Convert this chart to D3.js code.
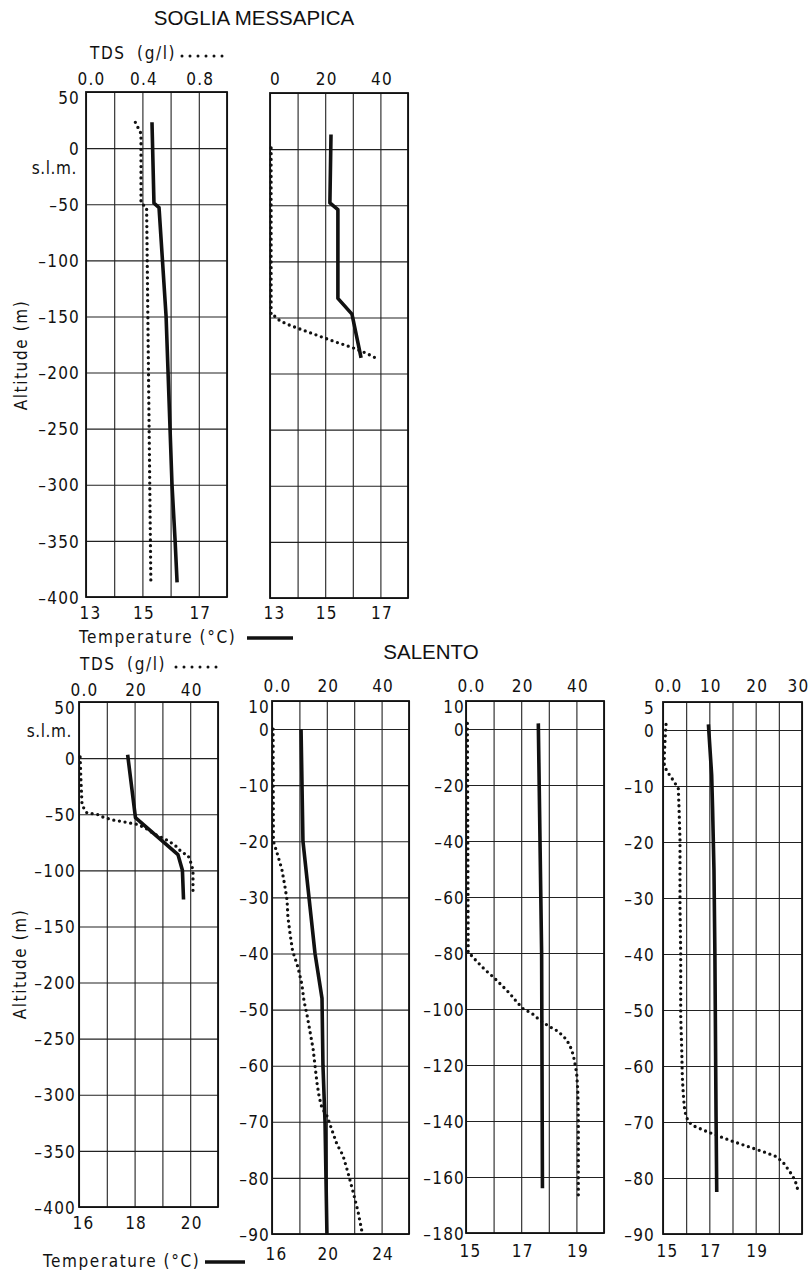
<!DOCTYPE html>
<html><head><meta charset="utf-8">
<script src="https://cdn.jsdelivr.net/npm/d3@7"></script>
<style>
body{margin:0;background:#fff;}
svg text{font-family:'DejaVu Sans Condensed','DejaVu Sans',sans-serif;font-stretch:condensed;fill:#111;font-size:17px;letter-spacing:1.2px;}
svg text.title{font-family:'Liberation Sans',Arial,sans-serif;font-stretch:normal;font-size:20.5px;letter-spacing:0;}
svg text.leg{letter-spacing:1.6px;}
</style></head><body><svg id="c" width="809" height="1270"></svg>
<script>
// ---------- DATA ----------
// Soglia Messapica, well A
const smA_tempAlt = [23, -49, -53, -150, -200, -300, -350, -387];
const smA_temp    = [15.34, 15.41, 15.59, 15.84, 15.91, 16.05, 16.16, 16.23];
const smA_tdsAlt  = [23, 13, -49, -53, -387];
const smA_tds     = [0.35, 0.39, 0.39, 0.43, 0.46];
// Soglia Messapica, well B
const smB_tempAlt = [13, -48, -54, -133, -147, -186];
const smB_temp    = [15.21, 15.17, 15.46, 15.46, 15.97, 16.30];
const smB_tdsAlt  = [1, -148, -149, -153, -156, -158, -161, -171, -177, -182, -187];
const smB_tds     = [0.4, 0.4, 1.8, 3.6, 6.2, 8.3, 11.6, 22.8, 30, 35, 39];
// Salento 1
const sa1_tempAlt = [3, -53, -86, -100, -126];
const sa1_temp    = [17.75, 18.03, 19.56, 19.72, 19.76];
const sa1_tdsAlt  = [1, -20, -42, -49, -50, -52.5, -55, -57, -59, -62, -68, -72, -77.5, -84, -86.5, -93.5, -100, -107, -120];
const sa1_tds     = [0.4, 0.7, 1.1, 2.9, 6.5, 8.6, 11.9, 16.5, 20.9, 23.7, 27.3, 30.9, 34.5, 37.0, 39.2, 40.3, 41.0, 41.0, 41.0];
// Salento 2
const sa2_tempAlt = [0, -20, -40, -48, -60, -70, -80, -90];
const sa2_temp    = [18.12, 18.26, 19.14, 19.65, 19.72, 19.87, 19.94, 20.01];
const sa2_tdsAlt  = [0, -20, -22, -25, -28, -30.5, -33.5, -36.5, -39.5, -42.5, -45.5, -48.5, -51, -54, -57, -60, -63, -65.5, -67.5, -69, -71.5, -74, -76, -79, -82.5, -86, -89.5];
const sa2_tds     = [0.4, 0.5, 1.8, 3.6, 4.7, 5.5, 5.8, 6.6, 7.5, 9.5, 10.9, 11.7, 12.8, 13.9, 15.0, 15.7, 16.4, 17.2, 18.2, 20.1, 21.9, 23.7, 25.9, 27.7, 29.6, 31.4, 32.8];
// Salento 3
const sa3_tempAlt = [2, -80, -164];
const sa3_temp    = [17.62, 17.74, 17.77];
const sa3_tdsAlt  = [2, -80, -81, -83, -86, -88.5, -91.5, -94.5, -97.5, -100, -101.5, -104, -106, -108, -111, -114.5, -118, -123, -129, -139, -150, -167];
const sa3_tds     = [0.5, 0.8, 2.1, 3.9, 6.9, 9.8, 12.9, 15.9, 18.4, 20.8, 23.8, 26.8, 29.8, 33.4, 36.5, 38.3, 39.2, 40.1, 40.5, 40.7, 40.7, 40.7];
// Salento 4
const sa4_tempAlt = [1, -8, -14, -25, -40, -69, -82.5];
const sa4_temp    = [16.96, 17.10, 17.14, 17.20, 17.24, 17.29, 17.32];
const sa4_tdsAlt  = [1, -2, -4.5, -6.5, -7.7, -9, -10.4, -13.7, -19.6, -31.5, -40, -51, -57, -62, -65, -67.3, -69, -70.1, -70.8, -71.7, -72.6, -73.5, -74.4, -75.3, -76.2, -77.3, -78.9, -80.4, -82.4];
const sa4_tds     = [0.65, 0.43, 0.28, 0.28, 1.14, 2.22, 3.3, 3.45, 3.67, 3.67, 3.82, 3.82, 4.04, 4.17, 4.38, 4.6, 4.96, 5.68, 6.9, 9.43, 12.3, 15.2, 18.4, 21.6, 24.5, 26.0, 27.4, 28.5, 29.2];

// ---------- AXIS TICKS / LABELS ----------
const altTicks400 = [50, 0, -50, -100, -150, -200, -250, -300, -350, -400];
const altLabels400 = ["50", "0", "-50", "-100", "-150", "-200", "-250", "-300", "-350", "-400"];
const altTicks90 = [5, 0, -10, -20, -30, -40, -50, -60, -70, -80, -90];
const altLabels90a = ["10", "0", "-10", "-20", "-30", "-40", "-50", "-60", "-70", "-80", "-90"];
const altLabels90b = ["5", "0", "-10", "-20", "-30", "-40", "-50", "-60", "-70", "-80", "-90"];
const altTicks180 = [10, 0, -20, -40, -60, -80, -100, -120, -140, -160, -180];
const altLabels180 = ["10", "0", "-20", "-40", "-60", "-80", "-100", "-120", "-140", "-160", "-180"];

const tempGridA = [13, 14, 15, 16, 17, 18];
const tempLabelsA = [13, 15, 17];
const tdsTicksA = [0, 0.4, 0.8];
const tdsLabelsA = ["0.0", "0.4", "0.8"];
const tdsTicksB = [0, 20, 40];
const tdsLabelsB = ["0", "20", "40"];
const tempGrid1 = [16, 17, 18, 19, 20, 21];
const tempLabels1 = [16, 18, 20];
const tdsTicks50 = [0, 20, 40];
const tdsLabels50 = ["0.0", "20", "40"];
const tempGrid2 = [16, 18, 20, 22, 24, 26];
const tempLabels2 = [16, 20, 24];
const tempGrid3 = [15, 16, 17, 18, 19, 20];
const tempLabels3 = [15, 17, 19];
const tempGrid4 = [15, 16, 17, 18, 19, 20, 21];
const tempLabels4 = [15, 17, 19];
const tdsTicks4 = [0, 10, 20, 30];
const tdsLabels4 = ["0.0", "10", "20", "30"];

const zip = (a, v) => a.map((d, i) => ({a: d, v: v[i]}));

// ---------- LAYOUT ----------
const panels = [
  {left: 86, right: 227, top: 92, bottom: 597, yDom: [50, -400], tDom: [13, 18], sDom: [0, 1.0],
   yTicks: altTicks400, yLabels: altLabels400, yGap: 6, tGrid: tempGridA, tLab: tempLabelsA,
   sTicks: tdsTicksA, sLab: tdsLabelsA, topY: 79, botY: 613, showY: true,
   temp: zip(smA_tempAlt, smA_temp), tds: zip(smA_tdsAlt, smA_tds)},
  {left: 270, right: 408, top: 93, bottom: 598, yDom: [50, -400], tDom: [13, 18], sDom: [0, 50],
   yTicks: altTicks400, yLabels: altLabels400, yGap: 6, tGrid: tempGridA, tLab: tempLabelsA,
   sTicks: tdsTicksB, sLab: tdsLabelsB, topY: 79, botY: 613, showY: false,
   temp: zip(smB_tempAlt, smB_temp), tds: zip(smB_tdsAlt, smB_tds)},
  {left: 79, right: 218, top: 702, bottom: 1207, yDom: [50, -400], tDom: [16, 21], sDom: [0, 50],
   yTicks: altTicks400, yLabels: altLabels400, yGap: 3, tGrid: tempGrid1, tLab: tempLabels1,
   sTicks: tdsTicks50, sLab: tdsLabels50, topY: 690, botY: 1223, showY: true,
   temp: zip(sa1_tempAlt, sa1_temp), tds: zip(sa1_tdsAlt, sa1_tds)},
  {left: 272, right: 409, top: 701, bottom: 1234, yDom: [5, -90], tDom: [16, 26], sDom: [0, 50],
   yTicks: altTicks90, yLabels: altLabels90a, yGap: 2, tGrid: tempGrid2, tLab: tempLabels2,
   sTicks: tdsTicks50, sLab: tdsLabels50, topY: 686, botY: 1254, showY: true,
   temp: zip(sa2_tempAlt, sa2_temp), tds: zip(sa2_tdsAlt, sa2_tds)},
  {left: 466, right: 604, top: 701, bottom: 1233, yDom: [10, -180], tDom: [15, 20], sDom: [0, 50],
   yTicks: altTicks180, yLabels: altLabels180, yGap: 1, tGrid: tempGrid3, tLab: tempLabels3,
   sTicks: tdsTicks50, sLab: tdsLabels50, topY: 686, botY: 1251, showY: true,
   temp: zip(sa3_tempAlt, sa3_temp), tds: zip(sa3_tdsAlt, sa3_tds)},
  {left: 663, right: 802, top: 702, bottom: 1234, yDom: [5, -90], tDom: [15, 21], sDom: [0, 30],
   yTicks: altTicks90, yLabels: altLabels90b, yGap: 8, tGrid: tempGrid4, tLab: tempLabels4,
   sTicks: tdsTicks4, sLab: tdsLabels4, topY: 686, botY: 1251, showY: true,
   temp: zip(sa4_tempAlt, sa4_temp), tds: zip(sa4_tdsAlt, sa4_tds)}
];

const svg = d3.select("#c");
const dash = s => s.replace(/^-/, "\u2013");

panels.forEach(p => {
  const g = svg.append("g");
  const y = d3.scaleLinear().domain(p.yDom).range([p.top, p.bottom]);
  const xT = d3.scaleLinear().domain(p.tDom).range([p.left, p.right]);
  const xS = d3.scaleLinear().domain(p.sDom).range([p.left, p.right]);
  const w = p.right - p.left, h = p.bottom - p.top;

  // horizontal grid
  g.append("g").attr("transform", `translate(${p.left},0)`)
    .call(d3.axisLeft(y).tickValues(p.yTicks).tickSize(-w).tickFormat(""))
    .call(s => { s.select(".domain").remove(); s.selectAll("line").attr("stroke", "#222").attr("stroke-width", 1.1); });
  // vertical grid
  g.append("g").attr("transform", `translate(0,${p.bottom})`)
    .call(d3.axisBottom(xT).tickValues(p.tGrid).tickSize(-h).tickFormat(""))
    .call(s => { s.select(".domain").remove(); s.selectAll("line").attr("stroke", "#222").attr("stroke-width", 1.1); });
  // frame
  g.append("rect").attr("x", p.left).attr("y", p.top).attr("width", w).attr("height", h)
    .attr("fill", "none").attr("stroke", "#111").attr("stroke-width", 1.8);

  // y labels
  if (p.showY) {
    const lab = new Map(p.yTicks.map((t, i) => [t, p.yLabels[i]]));
    g.append("g").attr("transform", `translate(${p.left - p.yGap},0)`)
      .call(d3.axisLeft(y).tickValues(p.yTicks).tickSize(0).tickPadding(0).tickFormat(d => dash(lab.get(d))))
      .call(s => {
        s.select(".domain").remove();
        s.selectAll("text").attr("x", 0).attr("dy", d => d === p.yDom[0] ? "0.7em" : "0.36em");
      });
  }
  // top TDS labels
  const sl = new Map(p.sTicks.map((t, i) => [t, p.sLab[i]]));
  g.append("g").attr("transform", `translate(0,${p.topY})`)
    .call(d3.axisTop(xS).tickValues(p.sTicks).tickSize(0).tickPadding(0).tickFormat(d => sl.get(d)))
    .call(s => {
      s.select(".domain").remove();
      s.selectAll("text").attr("y", 0).attr("dy", "0.36em")
        .attr("dx", d => d === p.sDom[0] ? 5 : (d === p.sDom[1] ? -4 : 1));
    });
  // bottom temperature labels
  g.append("g").attr("transform", `translate(0,${p.botY})`)
    .call(d3.axisBottom(xT).tickValues(p.tLab).tickSize(0).tickPadding(0).tickFormat(d3.format("d")))
    .call(s => {
      s.select(".domain").remove();
      s.selectAll("text").attr("y", 0).attr("dy", "0.36em").attr("dx", (d) => d === p.tDom[0] ? 4 : 1);
    });

  // profiles
  const lineT = d3.line().x(d => xT(d.v)).y(d => y(d.a));
  const lineS = d3.line().x(d => xS(d.v)).y(d => y(d.a));
  g.append("path").datum(p.tds).attr("d", lineS).attr("fill", "none")
    .attr("stroke", "#111").attr("stroke-width", 3.3).attr("stroke-linecap", "round")
    .attr("stroke-dasharray", "0 5.7");
  g.append("path").datum(p.temp).attr("d", lineT).attr("fill", "none")
    .attr("stroke", "#111").attr("stroke-width", 3.6).attr("stroke-linejoin", "round");
});

// titles
svg.append("text").attr("class", "title").attr("x", 254).attr("y", 25).attr("text-anchor", "middle").text("SOGLIA MESSAPICA");
svg.append("text").attr("class", "title").attr("x", 431).attr("y", 659).attr("text-anchor", "middle").text("SALENTO");

// s.l.m. labels
svg.append("text").attr("x", 77).attr("y", 168).attr("dy", "0.36em").attr("text-anchor", "end").style("letter-spacing", "0.6px").text("s.l.m.");
svg.append("text").attr("x", 72).attr("y", 731).attr("dy", "0.36em").attr("text-anchor", "end").style("letter-spacing", "0.6px").text("s.l.m.");

// altitude titles
[[21, 355], [20, 964]].forEach(([x, yy]) => {
  svg.append("text").attr("class", "leg").attr("transform", `translate(${x},${yy}) rotate(-90)`).attr("text-anchor", "middle")
    .attr("dy", "0.36em").text("Altitude (m)");
});

// legends
function legendTds(x, yy, x0, x1, ly) {
  svg.append("text").attr("class", "leg").attr("x", x).attr("y", yy).attr("dy", "0.36em").attr("word-spacing", "5px").text("TDS (g/l)");
  svg.append("path").attr("d", d3.line()([[x0, ly], [x1, ly]])).attr("stroke", "#111").attr("stroke-width", 3)
    .attr("stroke-linecap", "round").attr("stroke-dasharray", "0 8");
}
function legendTemp(x, yy, x0, x1) {
  svg.append("text").attr("class", "leg").attr("x", x).attr("y", yy).attr("dy", "0.36em").text("Temperature (°C)");
  svg.append("path").attr("d", d3.line()([[x0, yy + 1], [x1, yy + 1]])).attr("stroke", "#111").attr("stroke-width", 3.6);
}
legendTds(90, 53, 182, 228, 56);
legendTemp(79, 637, 247, 293);
legendTds(80, 664, 176, 220, 667);
legendTemp(43, 1261, 205, 245);
</script></body></html>
